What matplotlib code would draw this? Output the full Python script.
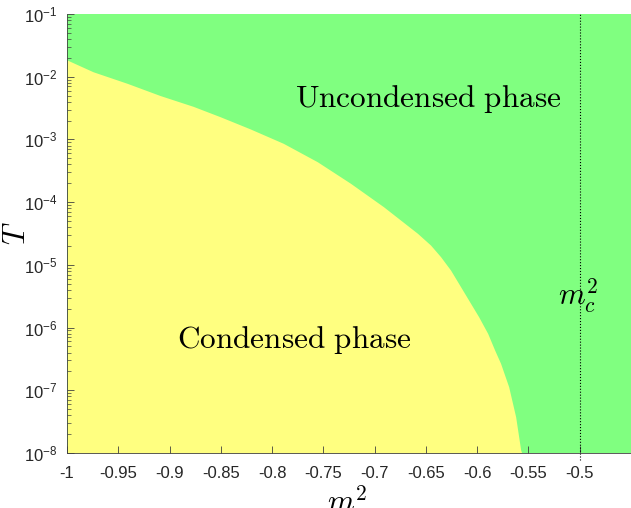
import matplotlib
matplotlib.use('Agg')
import matplotlib.pyplot as plt
import numpy as np
from matplotlib.ticker import LogLocator, FixedLocator, FixedFormatter

plt.rcParams['font.family'] = 'Liberation Sans'
plt.rcParams['mathtext.fontset'] = 'cm'
plt.rcParams['axes.unicode_minus'] = False

# phase boundary
m2 = [-1.0, -0.9746, -0.9414, -0.9092, -0.8770, -0.8506, -0.8213, -0.7891,
      -0.7559, -0.7236, -0.6914, -0.6582, -0.6455, -0.6357, -0.6260, -0.6182,
      -0.6084, -0.5986, -0.5898, -0.5830, -0.5772, -0.5693, -0.5625, -0.5576,
      -0.5566]
T_b = [1.85e-2, 1.20e-2, 7.85e-3, 5.01e-3, 3.37e-3, 2.30e-3, 1.47e-3, 8.67e-4,
       4.41e-4, 2.00e-4, 8.46e-5, 3.18e-5, 2.07e-5, 1.35e-5, 8.27e-6, 5.08e-6,
       2.75e-6, 1.49e-6, 8.10e-7, 4.39e-7, 2.69e-7, 1.14e-7, 3.79e-8, 1.12e-8,
       1.0e-8]
m2c = -0.5
xticks = [-1, -0.95, -0.9, -0.85, -0.8, -0.75, -0.7, -0.65, -0.6, -0.55, -0.5]
xlabels = ['-1', '-0.95', '-0.9', '-0.85', '-0.8', '-0.75', '-0.7', '-0.65', '-0.6', '-0.55', '-0.5']

green = '#80FF80'
yellow = '#FFFF80'
axcol = '#404040'

fig = plt.figure(figsize=(6.31, 5.08), dpi=100)
ax = fig.add_axes([67/631, 1-453/508, 1-67/631, (453-14)/508])
ax.set_yscale('log')
ax.set_xlim(-1, -0.45)
ax.set_ylim(1e-8, 1e-1)
ax.set_facecolor(green)

ax.fill_between(m2, 1e-8, T_b, color=yellow, lw=0, zorder=1)

ax.axvline(m2c, ymin=-0.016, ymax=1, color='k', ls=':', lw=0.8, clip_on=False, zorder=3)

ax.text(-0.6475, 3.3e-3, r'$\mathrm{Uncondensed\ phase}$', fontsize=22.5, ha='center', va='baseline')
ax.text(-0.7783, 4.7e-7, r'$\mathrm{Condensed\ phase}$', fontsize=22.5, ha='center', va='baseline')
ax.text(-0.5215, 2.3e-6, r'$m_c^2$', fontsize=22, ha='left', va='baseline')

ax.set_xlabel(r'$m^2$', fontsize=22)
ax.set_ylabel(r'$T$', fontsize=22)
ax.xaxis.set_label_coords(0.497, -0.078)
ax.yaxis.set_label_coords(-0.062, 0.5)

ax.xaxis.set_major_locator(FixedLocator(xticks))
ax.xaxis.set_major_formatter(FixedFormatter(xlabels))
ax.yaxis.set_major_locator(LogLocator(base=10, numticks=10))
ax.yaxis.set_minor_locator(LogLocator(base=10, subs=np.arange(2, 10), numticks=10))

for s in ['top', 'right']:
    ax.spines[s].set_visible(False)
for s in ['left', 'bottom']:
    ax.spines[s].set_color(axcol)
    ax.spines[s].set_linewidth(0.6)
    ax.spines[s].set_zorder(4)

ax.tick_params(which='major', direction='in', length=5, width=0.6, color=axcol,
               labelsize=12, labelcolor='#262626')
ax.tick_params(axis='x', which='major', pad=9)
ax.tick_params(axis='y', which='major', pad=7)
ax.tick_params(which='minor', direction='in', length=3, width=0.5, color=axcol)
ax.tick_params(axis='x', which='minor', bottom=False)

fig.savefig('out.png', dpi=100)
